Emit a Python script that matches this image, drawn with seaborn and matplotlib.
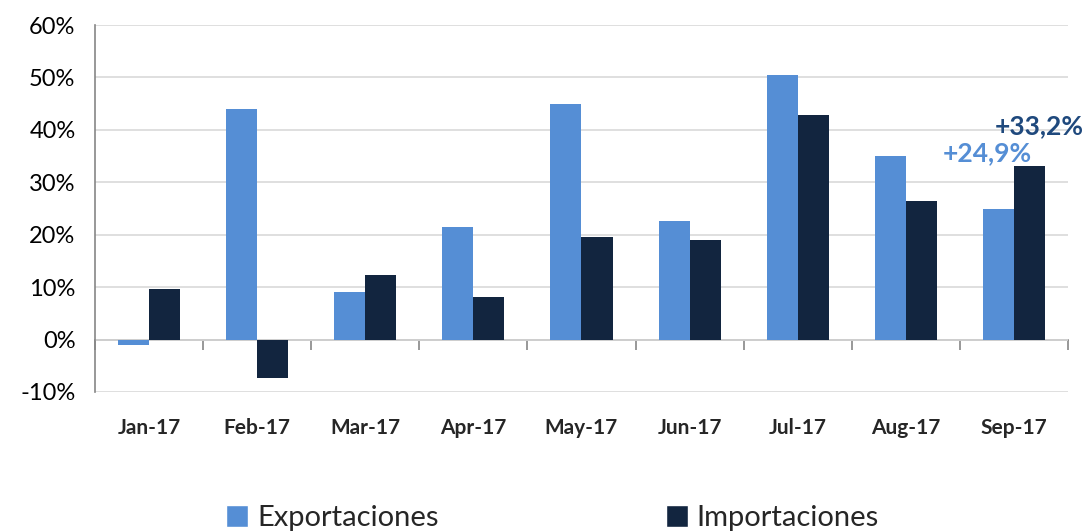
import pandas as pd
import matplotlib.pyplot as plt
import seaborn as sns
from matplotlib.patches import Patch
from matplotlib.ticker import FuncFormatter

# data (% variation)
months = ["Jan-17", "Feb-17", "Mar-17", "Apr-17", "May-17", "Jun-17", "Jul-17", "Aug-17", "Sep-17"]
exportaciones = [-1.0, 44.0, 9.1, 21.5, 45.0, 22.6, 50.4, 35.0, 24.9]
importaciones = [9.7, -7.3, 12.3, 8.2, 19.6, 18.9, 42.9, 26.5, 33.2]
series = ["Exportaciones", "Importaciones"]
colors = ["#558ED5", "#12253F"]

df = pd.DataFrame({
    "Mes": months * 2,
    "Valor": exportaciones + importaciones,
    "Serie": [series[0]] * len(months) + [series[1]] * len(months),
})

sns.set_style("white")
plt.rcParams["font.family"] = ["Lato", "DejaVu Sans"]

fig = plt.figure(figsize=(10.88, 5.31), dpi=100)
ax = fig.add_axes([0.0873, 0.2618, 0.8943, 0.6911])

sns.barplot(data=df, x="Mes", y="Valor", hue="Serie", palette=colors,
            width=0.575, saturation=1, linewidth=0, legend=False, ax=ax)

ax.set_ylim(-10, 60)
ax.set_xlim(-0.5, len(months) - 0.5)
ax.set_yticks(range(-10, 61, 10))
ax.yaxis.set_major_formatter(FuncFormatter(lambda v, p: f"{v:.0f}%"))
ax.grid(axis="y", color="#D9D9D9", linewidth=1.2)
ax.set_axisbelow(True)
ax.set_xlabel("")
ax.set_ylabel("")

for s in ["top", "right", "bottom"]:
    ax.spines[s].set_visible(False)
ax.spines["left"].set_color("#868686")
ax.spines["left"].set_linewidth(1.2)
ax.tick_params(axis="y", length=6, color="#868686", width=1.2, labelsize=17, pad=8, labelcolor="#000000")
ax.tick_params(axis="x", length=0, labelsize=15, pad=19)
for lbl in ax.get_xticklabels():
    lbl.set_fontweight("bold")

# horizontal axis line at 0 with category boundary ticks
sec = ax.secondary_xaxis(0, transform=ax.transData)
sec.set_xticks([i + 0.5 for i in range(-1, len(months))])
sec.set_xticklabels([])
sec.tick_params(axis="x", direction="out", length=7, width=1.2, color="#868686")
sec.spines["bottom"].set_color("#868686")
sec.spines["bottom"].set_linewidth(1.2)

# labels on the last month
last = len(months) - 1
ax.annotate(f"+{exportaciones[-1]:.1f}%".replace(".", ","), xy=(last - 0.144, exportaciones[-1]),
            xytext=(-8, 40), textcoords="offset points", ha="center", va="center",
            fontsize=19, fontweight="bold", color="#558ED5")
ax.annotate(f"+{importaciones[-1]:.1f}%".replace(".", ","), xy=(last + 0.144, importaciones[-1]),
            xytext=(7, 28), textcoords="offset points", ha="center", va="center",
            fontsize=19, fontweight="bold", color="#1F497D")

handles = [Patch(facecolor=c, label=s) for s, c in zip(series, colors)]
fig.legend(handles=handles, loc="lower center", bbox_to_anchor=(0.508, -0.05), ncol=2,
           frameon=False, fontsize=21, handlelength=0.75, handleheight=0.75,
           handletextpad=0.3, columnspacing=7.8)

fig.savefig("out.png", dpi=100)
